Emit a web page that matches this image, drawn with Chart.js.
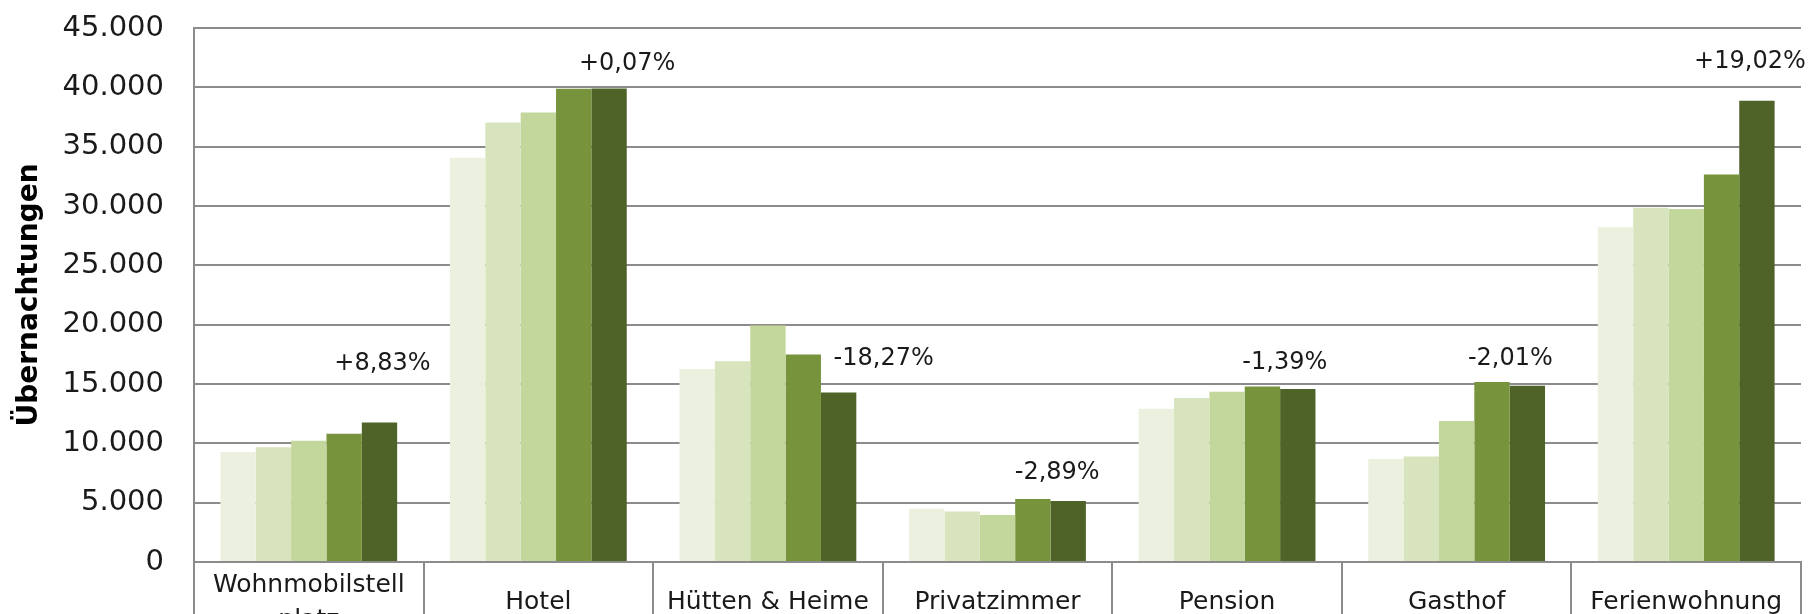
<!DOCTYPE html>
<html lang="de">

<head>
    <meta charset="utf-8">
    <title>Übernachtungen nach Unterkunftsart</title>
    <script src="https://cdn.jsdelivr.net/npm/chart.js"></script>
    <style>
        html, body { margin: 0; padding: 0; background: #fff; }
        #wrap { width: 1810px; height: 614px; position: relative; }
    </style>
</head>

<body>

    <div id="wrap">
        <canvas id="grafico"></canvas>
    </div>

    <script>
        // Kategorien (Unterkunftsarten)
        const kategorien = [
            ['Wohnmobilstell', 'platz'],
            'Hotel',
            'Hütten & Heime',
            'Privatzimmer',
            'Pension',
            'Gasthof',
            'Ferienwohnung'
        ];

        // Übernachtungen je Jahr (fünf Reihen, von hell nach dunkel)
        const reihe1 = [9260, 34060, 16270, 4490, 12920, 8680, 28200];
        const reihe2 = [9680, 37040, 16920, 4260, 13820, 8880, 29850];
        const reihe3 = [10210, 37880, 19920, 3960, 14350, 11880, 29750];
        const reihe4 = [10800, 39880, 17480, 5300, 14780, 15170, 32660];
        const reihe5 = [11750, 39910, 14290, 5150, 14570, 14860, 38870];

        // Veränderung der letzten Reihe gegenüber der vorletzten
        const veraenderung = ['+8,83%', '+0,07%', '-18,27%', '-2,89%', '-1,39%', '-2,01%', '+19,02%'];
        // Höhe der Beschriftung (in Übernachtungen) und seitlicher Versatz (px)
        const veraenderungY = [16720, 42020, 17140, 7480, 16750, 17150, 42190];
        const veraenderungDx = [3, 18, 45, -11, -13, -17, -7];

        const farben = ['#EBF1DE', '#D7E4BD', '#C3D69B', '#77933C', '#4F6228'];
        const grau = '#8c8c8c';
        const schrift = "'DejaVu Sans', sans-serif";

        function tausender(v) {
            return String(v).replace(/\B(?=(\d{3})+(?!\d))/g, '.');
        }

        // Prozentangaben neben der letzten Säule jeder Kategorie
        const veraenderungPlugin = {
            id: 'veraenderung',
            afterDatasetsDraw(chart) {
                const ctx = chart.ctx;
                const meta = chart.getDatasetMeta(4);
                const y = chart.scales.y;
                ctx.save();
                ctx.font = '24px ' + schrift;
                ctx.fillStyle = '#1a1a1a';
                ctx.textAlign = 'center';
                ctx.textBaseline = 'middle';
                veraenderung.forEach((txt, i) => {
                    const bar = meta.data[i];
                    ctx.fillText(txt, bar.x + veraenderungDx[i], y.getPixelForValue(veraenderungY[i]));
                });
                ctx.restore();
            }
        };

        const reihen = [reihe1, reihe2, reihe3, reihe4, reihe5];

        new Chart(document.getElementById('grafico'), {
            type: 'bar',
            data: {
                labels: kategorien,
                datasets: reihen.map((werte, i) => ({
                    label: 'Reihe ' + (i + 1),
                    data: werte,
                    backgroundColor: farben[i],
                    borderWidth: 0,
                    categoryPercentage: 0.77,
                    barPercentage: 1.0
                }))
            },
            options: {
                responsive: true,
                maintainAspectRatio: false,
                animation: false,
                layout: {
                    padding: { top: 28, right: 9, left: 0, bottom: 0 }
                },
                plugins: {
                    legend: { display: false },
                    tooltip: { enabled: false }
                },
                scales: {
                    x: {
                        afterFit: (scale) => { scale.height = 52; },
                        grid: {
                            display: true,
                            drawOnChartArea: false,
                            tickLength: 60,
                            color: grau,
                            lineWidth: 2
                        },
                        border: { display: true, color: grau, width: 2 },
                        ticks: {
                            padding: -37,
                            crossAlign: 'center',
                            maxRotation: 0,
                            autoSkip: false,
                            color: '#1a1a1a',
                            font: { family: schrift, size: 25, lineHeight: 1.4 }
                        }
                    },
                    y: {
                        min: 0,
                        max: 45000,
                        afterFit: (scale) => { scale.width = 194; },
                        grid: {
                            color: grau,
                            lineWidth: 2,
                            drawTicks: true,
                            tickLength: 30,
                            tickColor: 'rgba(0,0,0,0)'
                        },
                        border: { display: true, color: grau, width: 2 },
                        ticks: {
                            stepSize: 5000,
                            padding: 0,
                            color: '#1a1a1a',
                            font: { family: schrift, size: 29 },
                            callback: (v) => tausender(v)
                        },
                        title: {
                            display: true,
                            text: 'Übernachtungen',
                            color: '#000',
                            font: { family: schrift, size: 28, weight: 'bold' },
                            padding: { top: 13, bottom: 0 }
                        }
                    }
                }
            },
            plugins: [veraenderungPlugin]
        });
    </script>

</body>

</html>
